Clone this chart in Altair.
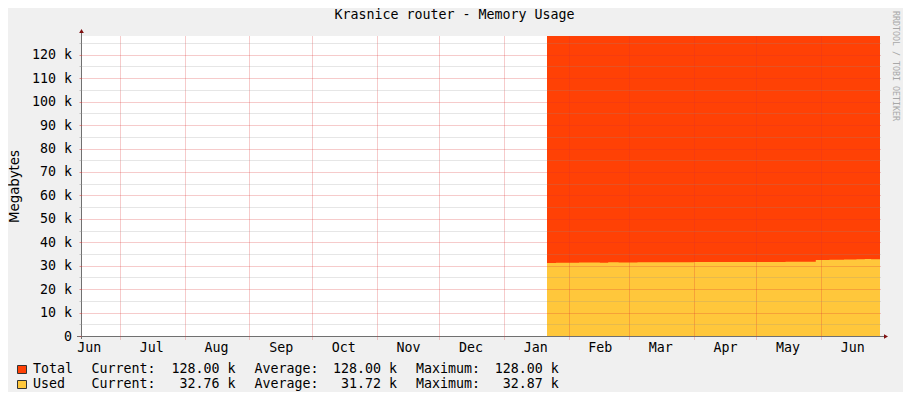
import altair as alt
import pandas as pd

# ---------------- data ----------------
title_text = "Krasnice router - Memory Usage"
y_title = "Megabytes"
watermark = "RRDTOOL / TOBI OETIKER"

range_start = "2011-06-12T07:20:00Z"
range_end = "2012-06-29T06:40:00Z"

total_dates = ["2012-01-21T16:00:00Z", "2012-06-29T06:40:00Z"]
total_values = [128.0, 128.0]

used_dates = ["2012-01-21T16:00:00Z", "2012-01-26", "2012-02-01", "2012-02-06",
              "2012-02-10", "2012-02-16", "2012-02-20", "2012-02-25", "2012-03-01",
              "2012-03-05", "2012-03-10", "2012-03-20", "2012-04-01", "2012-04-15",
              "2012-05-01", "2012-05-15", "2012-05-23", "2012-05-29T12:00:00Z",
              "2012-06-05", "2012-06-12", "2012-06-18", "2012-06-22", "2012-06-25",
              "2012-06-29T06:40:00Z"]
used_values = [31.2, 31.3, 31.25, 31.4, 31.35, 31.3, 31.45, 31.4, 31.4, 31.5, 31.45,
               31.5, 31.55, 31.6, 31.6, 31.65, 31.7, 32.45, 32.55, 32.6, 32.7, 32.87,
               32.7, 32.76]

series_names = ["Total", "Used"]
series_colors = ["#ff4105", "#ffc73b"]
current_vals = ["128.00 k", "32.76 k"]
average_vals = ["128.00 k", "31.72 k"]
maximum_vals = ["128.00 k", "32.87 k"]

month_starts = [(2011, 7), (2011, 8), (2011, 9), (2011, 10), (2011, 11), (2011, 12),
                (2012, 1), (2012, 2), (2012, 3), (2012, 4), (2012, 5), (2012, 6)]
month_label_at = [(2011, 6), (2011, 7), (2011, 8), (2011, 9), (2011, 10), (2011, 11),
                  (2011, 12), (2012, 1), (2012, 2), (2012, 3), (2012, 4), (2012, 5),
                  (2012, 6)]
y_major = [0, 10, 20, 30, 40, 50, 60, 70, 80, 90, 100, 110, 120]
y_minor = [5, 15, 25, 35, 45, 55, 65, 75, 85, 95, 105, 115, 125]

# ---------------- style ----------------
MONO = "DejaVu Sans Mono"
SANS = "DejaVu Sans"
GRID = "#8f8f8f"
MGRID = "#de3030"
AXISC = "#707070"
ARROW = "#7f1010"
FS = 13.3
W, H = 799, 300

total_df = pd.DataFrame({"date": total_dates, "value": total_values})
used_df = pd.DataFrame({"date": used_dates, "value": used_values})

xscale = alt.Scale(type="utc", nice=False, domain=[
    alt.DateTime(year=2011, month=6, date=12, hours=7, minutes=20, utc=True),
    alt.DateTime(year=2012, month=6, date=29, hours=6, minutes=40, utc=True)])
yscale = alt.Scale(domain=[0, 128], nice=False, zero=True)

x_grid_axis = alt.Axis(orient="bottom", title="",
                       values=[alt.DateTime(year=y, month=m, date=1, utc=True) for y, m in month_starts],
                       labels=False, domain=False, ticks=True, tickSize=3, tickColor=MGRID,
                       tickOpacity=0.5, tickDash=[1, 1], grid=True, gridColor=MGRID,
                       gridOpacity=0.5, gridDash=[1, 1], zindex=1)
x_label_axis = alt.Axis(orient="bottom", title="",
                        values=[alt.DateTime(year=y, month=m, date=16, utc=True) for y, m in month_label_at],
                        labelExpr="utcFormat(datum.value, '%b')", labels=True, domain=False,
                        ticks=False, tickSize=0, labelPadding=15, labelBaseline="alphabetic",
                        labelFont=MONO, labelFontSize=FS, labelColor="#000000", grid=False,
                        labelOverlap=False, labelFlush=False, zindex=1)
y_minor_axis = alt.Axis(orient="left", title="", values=y_minor, labels=False, domain=False,
                        ticks=True, tickSize=2, tickColor=GRID, tickOpacity=0.5,
                        grid=True, gridColor=GRID, gridOpacity=0.45, gridDash=[1, 1], zindex=1)
y_major_axis = alt.Axis(orient="left", title=y_title, values=y_major,
                        labelExpr="datum.value == 0 ? '0' : datum.value + ' k'",
                        labelFont=MONO, labelFontSize=FS, labelColor="#000000",
                        labelPadding=7.5, labelBaseline="middle", domain=False,
                        ticks=True, tickSize=2, tickColor=MGRID, tickOpacity=0.5,
                        grid=True, gridColor=MGRID, gridDash=[1, 1],
                        gridOpacity={"condition": {"test": "datum.value === 0", "value": 0}, "value": 0.5},
                        titleFont=SANS, titleFontSize=FS, titleFontWeight="normal",
                        titleColor="#000000", titleAngle=-90, titleX=-67, titleY=H / 2,
                        titleAlign="center", titleBaseline="middle", labelOverlap=False,
                        labelFlush=False, zindex=1)

total_layer = alt.Chart(total_df).mark_area(
    interpolate="step-after", color=series_colors[0], opacity=1).encode(
    x=alt.X("date:T", scale=xscale, axis=x_grid_axis),
    y=alt.Y("value:Q", scale=yscale, axis=y_minor_axis))

used_layer = alt.Chart(used_df).mark_area(
    interpolate="step-after", color=series_colors[1], opacity=1).encode(
    x=alt.X("date:T", scale=xscale, axis=x_label_axis),
    y=alt.Y("value:Q", scale=yscale, axis=y_major_axis))

one = alt.Data(values=[{"k": 0}])


def rule(x, x2, y, y2, color, width=1):
    return alt.Chart(one).mark_rule(color=color, strokeWidth=width).encode(
        x=alt.value(x), x2=alt.value(x2), y=alt.value(y), y2=alt.value(y2))


def box(x, x2, y, y2, fill, stroke=None):
    kw = dict(fill=fill)
    if stroke:
        kw.update(stroke=stroke, strokeWidth=1)
    else:
        kw.update(strokeWidth=0)
    return alt.Chart(one).mark_rect(**kw).encode(
        x=alt.value(x), x2=alt.value(x2), y=alt.value(y), y2=alt.value(y2))


def txt(s, x, y, align="left", font=MONO, size=FS, color="#000000", angle=0, baseline="alphabetic"):
    kw = dict(align=align, baseline=baseline, font=font, fontSize=size, color=color)
    if angle:
        kw["angle"] = angle
    return alt.Chart(one).mark_text(**kw).encode(
        x=alt.value(x), y=alt.value(y), text=alt.value(s))


def arrow(x, y, shape):
    return alt.Chart(one).mark_point(shape=shape, filled=True, color=ARROW, size=22, opacity=1).encode(
        x=alt.value(x), y=alt.value(y))


layers = [total_layer, used_layer,
          rule(-4, W + 4, H + 0.5, H + 0.5, AXISC),
          rule(0.5, 0.5, -5, H + 3, AXISC),
          arrow(W + 6, H + 0.5, "triangle-right"),
          arrow(0.5, -5, "triangle-up"),
          txt(title_text, 373.5, -17, align="center"),
          txt(watermark, 814, 30, align="center", size=8.3, color="#a8a8a8", angle=90,
              baseline="middle")]

row_y = [337, 352]
box_y = [(329.5, 337.5), (344.5, 352.5)]
for i in range(2):
    layers.append(box(-63.5, -54.5, box_y[i][0], box_y[i][1], series_colors[i], stroke="#333333"))
    layers.append(txt(series_names[i], -48, row_y[i]))
    layers.append(txt("Current:", 10.5, row_y[i]))
    layers.append(txt(current_vals[i], 154.5, row_y[i], align="right"))
    layers.append(txt("Average:", 173.5, row_y[i]))
    layers.append(txt(average_vals[i], 316, row_y[i], align="right"))
    layers.append(txt("Maximum:", 335, row_y[i]))
    layers.append(txt(maximum_vals[i], 477.8, row_y[i], align="right"))

chart = alt.layer(*layers).resolve_axis(x="independent", y="independent").properties(
    width=W, height=H,
    autosize=alt.AutoSizeParams(type="none"),
    padding={"left": 73, "top": 28, "right": 23, "bottom": 56},
    background="#f0f0f0",
).configure_view(fill="#ffffff", strokeWidth=0)

chart.save("out.html", embed_options={"renderer": "svg", "actions": False})
